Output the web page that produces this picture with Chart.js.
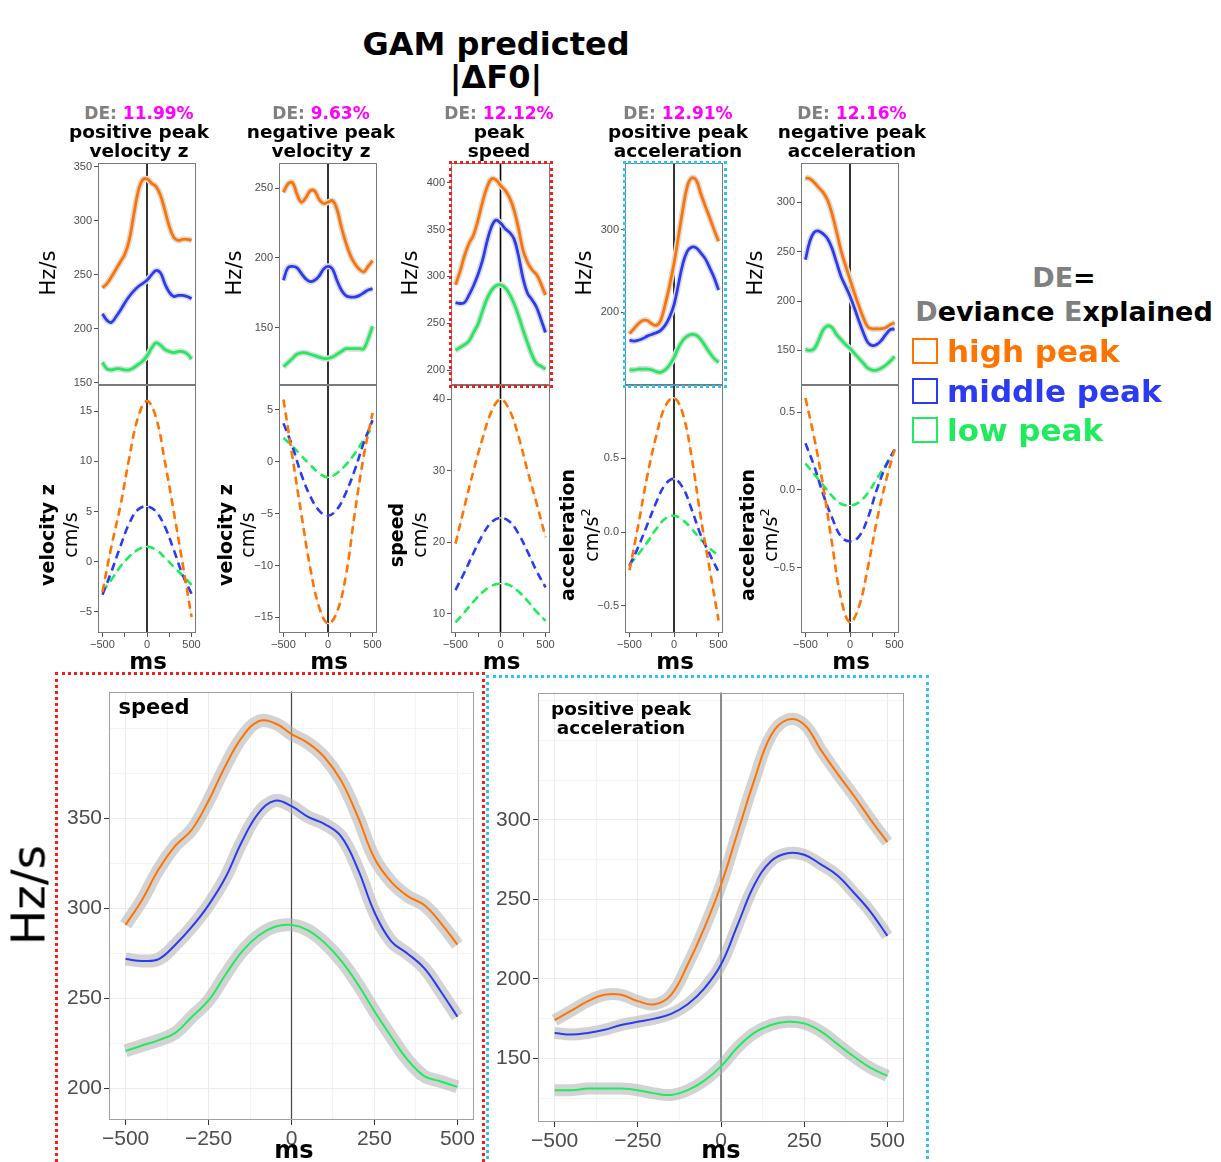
<!DOCTYPE html>
<html>
<head>
<meta charset="utf-8">
<script src="https://cdn.jsdelivr.net/npm/chart.js@4.4.1/dist/chart.umd.min.js"></script>
<style>
  body { margin: 0; background: #fff; width: 1221px; height: 1162px; position: relative; overflow: hidden; font-family: "DejaVu Sans", Verdana, sans-serif; }
  canvas { position: absolute; }
  .c { position: absolute; white-space: nowrap; font-weight: bold; text-align: center; transform: translate(-50%, -50%); }
  .l { position: absolute; white-space: nowrap; font-weight: bold; transform: translateY(-50%); }
  .r { position: absolute; white-space: nowrap; text-align: center; transform: translate(-50%, -50%) rotate(-90deg); }
  .box { position: absolute; box-sizing: border-box; }
  .sq { display: inline-block; width: 22px; height: 22px; border: 2px solid; vertical-align: -2px; margin-right: 9px; }
</style>
</head>
<body>
<script>
// time axis (ms)
const msFine = [-500,-450,-400,-350,-300,-250,-200,-150,-100,-50,0,50,100,150,200,250,300,350,400,450,500];
const msCoarse = [-500,-400,-300,-200,-100,0,100,200,300,400,500];

// GAM predicted |dF0| (Hz/s): positive peak velocity z
const pvHigh = [238,242,248,255,262,269,282,305,327,338,339,335,332,324,310,295,285,282,283,283,282];
const pvMid  = [214,208,206,211,217,224,230,235,239,242,245,250,254,252,242,234,230,231,231,230,228];
const pvLow  = [169,163,162,163,163,162,162,164,167,170,175,182,187,185,181,179,178,179,179,177,172];
// negative peak velocity z
const nvHigh = [247,253,254,246,240,243,248,248,242,239,240,241,235,222,211,202,196,192,190,194,198];
const nvMid  = [184,193,194,193,189,185,183,184,187,192,194,192,184,177,173,172,172,173,175,177,178];
const nvLow  = [122,125,128,131,132,132,131,130,129,128,128,129,131,133,135,135,135,135,135,142,151];
// peak speed
const spHigh = [291,305,322,335,344,360,379,395,404,403,397,392,384,371,351,328,315,307,302,292,280];
const spMid  = [272,271,272,280,290,302,317,337,353,360,357,351,347,340,322,298,282,275,267,254,240];
const spLow  = [221,224,227,231,240,249,263,276,285,290,291,288,281,271,258,243,229,216,207,204,201];
// positive peak acceleration
const apHigh = [174,180,186,190,190,186,184,190,209,232,259,292,325,353,363,360,344,329,315,300,286];
const apMid  = [166,165,166,168,171,173,175,178,184,194,209,234,259,274,279,278,272,265,254,242,227];
const apLow  = [130,130,131,131,131,130,128,127,130,136,145,157,166,171,173,172,167,159,151,144,139];
// negative peak acceleration
const anHigh = [325,324,320,315,310,302,288,270,251,236,222,208,195,183,174,172,172,172,173,176,178];
const anMid  = [242,261,270,271,268,263,253,239,225,215,205,193,180,168,158,155,156,160,166,171,172];
const anLow  = [151,150,152,161,171,175,173,166,161,156,152,147,142,137,132,130,130,132,135,139,144];

// kinematic trajectories
const kvpHigh = [-3,1.5,5.5,10.3,14.4,16,14.4,10,5,-0.2,-5.5];
const kvpMid  = [-3.3,-1,1.5,3.8,5.2,5.5,5,3.5,1.2,-1.3,-3.2];
const kvpLow  = [-3,-1.8,-0.5,0.5,1.2,1.5,1.2,0.4,-0.5,-1.4,-2.3];
const kvnHigh = [6,0.5,-5,-10.2,-14,-15.6,-14.5,-11,-5,0.5,4.7];
const kvnMid  = [3.7,1.5,-1.2,-3.3,-4.7,-5.2,-4.6,-3,-0.8,1.8,4];
const kvnLow  = [2.3,1.5,0.6,-0.3,-1.1,-1.5,-1.1,-0.3,0.8,2.1,3.4];
const ksHigh  = [19.8,25,30,34.5,38.3,40,38.5,34.8,30,25.5,20.7];
const ksMid   = [13.3,15.8,18.5,21,22.8,23.4,22.9,21.2,18.7,16,13.7];
const ksLow   = [8.8,10.2,11.7,13,13.9,14.2,14,13.1,11.8,10.3,9];
const kapHigh = [-0.26,0.05,0.38,0.65,0.85,0.91,0.8,0.5,0.1,-0.25,-0.6];
const kapMid  = [-0.23,-0.1,0.05,0.2,0.32,0.36,0.3,0.15,-0.02,-0.15,-0.27];
const kapLow  = [-0.22,-0.15,-0.07,0.02,0.09,0.11,0.08,0.02,-0.05,-0.11,-0.16];
const kanHigh = [0.59,0.33,0.02,-0.35,-0.7,-0.85,-0.75,-0.5,-0.2,0.05,0.26];
const kanMid  = [0.3,0.15,-0.03,-0.18,-0.3,-0.33,-0.3,-0.18,0,0.15,0.26];
const kanLow  = [0.17,0.1,0.03,-0.04,-0.09,-0.1,-0.08,-0.02,0.07,0.16,0.25];

// tick labels
const smallMsTicks = [-500,-250,0,250,500];
const bigMsTicks = [-500,-375,-250,-125,0,125,250,375,500];
const speedHzTicks = [200,225,250,275,300,325,350,375,400];
const accHzTicks = [125,150,175,200,225,250,275,300,325,350,375];

const colHigh = '#ff7400', colMid = '#2b3af3', colLow = '#1eec5c';

const frame = {
  id: 'frame',
  beforeDatasetsDraw(chart, args, o) {
    const { ctx, chartArea: c, scales } = chart;
    const px = scales.x.getPixelForValue(0);
    ctx.save();
    ctx.strokeStyle = o.zeroColor; ctx.lineWidth = o.zeroWidth;
    ctx.beginPath(); ctx.moveTo(px, c.top); ctx.lineTo(px, c.bottom); ctx.stroke();
    ctx.restore();
  },
  afterDatasetsDraw(chart, args, o) {
    const { ctx, chartArea: c } = chart;
    ctx.save();
    ctx.strokeStyle = o.color; ctx.lineWidth = 1;
    ctx.strokeRect(Math.round(c.left) + 0.5, Math.round(c.top) + 0.5, Math.round(c.width) - 1, Math.round(c.height) - 1);
    ctx.restore();
  }
};

function series(xs, ys, color, width, dash, order) {
  return { data: xs.map((x, i) => ({ x: x, y: ys[i] })), borderColor: color, borderWidth: width,
    borderDash: dash || [], pointRadius: 0, tension: 0.4, fill: false, order: order };
}

function trio(xs, arr, lw, rw, rc, dashed) {
  const cols = [colHigh, colMid, colLow];
  const sets = [];
  arr.forEach((ys, i) => {
    sets.push(series(xs, ys, cols[i], lw, dashed ? [8, 5] : null, 0));
    sets.push(series(xs, ys, rc, rw, null, 1));
  });
  return sets;
}

const minus = s => String(s).replace('-', '\u2212');

function makeChart(box, o) {
  const cv = document.createElement('canvas');
  const W = o.yW + box.w + o.padRight;
  const H = o.padTop + box.h + (o.xTicks ? o.xH : o.padBottom);
  cv.width = W; cv.height = H;
  cv.style.left = (box.left - o.yW) + 'px';
  cv.style.top = (box.top - o.padTop) + 'px';
  cv.style.width = W + 'px'; cv.style.height = H + 'px';
  document.body.appendChild(cv);
  const big = !!o.big;
  new Chart(cv, {
    type: 'line',
    data: { datasets: o.datasets },
    options: {
      responsive: false, animation: false, events: [],
      layout: { padding: { top: o.padTop, right: o.padRight, bottom: o.xTicks ? 0 : o.padBottom, left: 0 } },
      plugins: {
        legend: { display: false }, tooltip: { enabled: false },
        frame: { color: big ? '#a0a0a0' : '#7a7a7a', zeroColor: big ? '#444' : '#000', zeroWidth: big ? 1.2 : 1.6 }
      },
      scales: {
        x: {
          type: 'linear', min: -550, max: 550, display: !!o.xTicks,
          afterBuildTicks: s => { if (o.xTicks) s.ticks = o.xTicks.map(v => ({ value: v })); },
          afterFit: s => { if (o.xTicks) s.height = o.xH; },
          border: { display: false },
          grid: big ? {
            color: c => (c.tick && c.tick.value % 250 === 0) ? '#ebebeb' : '#f4f4f4',
            tickColor: c => (c.tick && c.tick.value % 250 === 0) ? '#333' : 'rgba(0,0,0,0)',
            tickLength: 5
          } : { drawOnChartArea: false, tickLength: 4, tickColor: '#555' },
          ticks: {
            autoSkip: false, maxRotation: 0, minRotation: 0, padding: big ? 2 : 1,
            color: '#4d4d4d', font: { family: 'Liberation Sans', size: big ? 21 : 11 },
            callback: v => (o.xLabels.indexOf(v) >= 0 ? minus(v) : '')
          }
        },
        y: {
          type: 'linear', min: o.yMin, max: o.yMax,
          afterBuildTicks: s => { s.ticks = o.yTicks.map(v => ({ value: v })); },
          afterFit: s => { s.width = o.yW; },
          border: { display: false },
          grid: big ? {
            color: c => (c.tick && o.yLabels.indexOf(c.tick.value) >= 0) ? '#ebebeb' : '#f4f4f4',
            tickColor: c => (c.tick && o.yLabels.indexOf(c.tick.value) >= 0) ? '#333' : 'rgba(0,0,0,0)',
            tickLength: 5
          } : { drawOnChartArea: false, tickLength: 4, tickColor: '#555' },
          ticks: {
            autoSkip: false, padding: 2,
            color: '#4d4d4d', font: { family: 'Liberation Sans', size: big ? 21 : 11 },
            callback: v => (o.yLabels.indexOf(v) >= 0 ? minus(o.dec ? v.toFixed(o.dec) : v) : '')
          }
        }
      }
    },
    plugins: [frame]
  });
}

function text(html, x, y, cls, css) {
  const d = document.createElement('div');
  d.className = cls;
  d.innerHTML = html;
  d.style.left = x + 'px'; d.style.top = y + 'px';
  Object.assign(d.style, css || {});
  document.body.appendChild(d);
  return d;
}

const panels = [
  { cx: 139, left: 98, w: 98, de: '11.99%', title: 'positive peak<br>velocity z', hz: [pvHigh, pvMid, pvLow],
    hzRange: [148, 353.7], hzTicks: [150, 200, 250, 300, 350], hzX: 48,
    kin: [kvpHigh, kvpMid, kvpLow], kinRange: [-7.1, 17.6], kinTicks: [-5, 0, 5, 10, 15], dec: 0,
    kinTitle: 'velocity z', kinUnit: 'cm/s', kinX: [47, 70] },
  { cx: 321, left: 279, w: 98, de: '9.63%', title: 'negative peak<br>velocity z', hz: [nvHigh, nvMid, nvLow],
    hzRange: [109, 268], hzTicks: [150, 200, 250], hzX: 234,
    kin: [kvnHigh, kvnMid, kvnLow], kinRange: [-16.5, 7.4], kinTicks: [-15, -10, -5, 0, 5], dec: 0,
    kinTitle: 'velocity z', kinUnit: 'cm/s', kinX: [225, 247] },
  { cx: 499, left: 451, w: 99, de: '12.12%', title: 'peak<br>speed', hz: [spHigh, spMid, spLow],
    hzRange: [184, 421], hzTicks: [200, 250, 300, 350, 400], hzX: 410,
    kin: [ksHigh, ksMid, ksLow], kinRange: [7.3, 42], kinTicks: [10, 20, 30, 40], dec: 0,
    kinTitle: 'speed', kinUnit: 'cm/s', kinX: [396, 419] },
  { cx: 678, left: 625, w: 98, de: '12.91%', title: 'positive peak<br>acceleration', hz: [apHigh, apMid, apLow],
    hzRange: [111.7, 381], hzTicks: [200, 300], hzX: 584,
    kin: [kapHigh, kapMid, kapLow], kinRange: [-0.685, 0.997], kinTicks: [-0.5, 0, 0.5], dec: 1,
    kinTitle: 'acceleration', kinUnit: 'cm/s<sup style="font-size:13px">2</sup>', kinX: [567, 590] },
  { cx: 852, left: 801, w: 98, de: '12.16%', title: 'negative peak<br>acceleration', hz: [anHigh, anMid, anLow],
    hzRange: [115, 340], hzTicks: [150, 200, 250, 300], hzX: 755,
    kin: [kanHigh, kanMid, kanLow], kinRange: [-0.919, 0.674], kinTicks: [-0.5, 0, 0.5], dec: 1,
    kinTitle: 'acceleration', kinUnit: 'cm/s<sup style="font-size:13px">2</sup>', kinX: [747, 769] }
];

panels.forEach(p => {
  makeChart({ left: p.left, top: 163, w: p.w, h: 222 }, {
    yW: 40, padTop: 10, padRight: 14, padBottom: 10,
    datasets: trio(msFine, p.hz, 2.8, 6, '#dadada', false),
    yMin: p.hzRange[0], yMax: p.hzRange[1], yTicks: p.hzTicks, yLabels: p.hzTicks, xLabels: []
  });
  const kinSets = trio(msCoarse, p.kin, 2.6, 1.2, '#e6e6e6', true);
  makeChart({ left: p.left, top: 385, w: p.w, h: 248 }, {
    yW: 40, padTop: 10, padRight: 14, xH: 20,
    datasets: kinSets, dec: p.dec,
    yMin: p.kinRange[0], yMax: p.kinRange[1], yTicks: p.kinTicks, yLabels: p.kinTicks,
    xTicks: smallMsTicks, xLabels: [-500, 0, 500]
  });
  const pc = p.left + p.w / 2;
  text('<span style="color:#808080">DE: </span><span style="color:#ff00ff">' + p.de + '</span>', p.cx, 113, 'c', { fontSize: '17px' });
  text(p.title, p.cx, 141, 'c', { fontSize: '18.5px', lineHeight: '19px' });
  text('Hz/s', p.hzX, 273, 'r', { fontSize: '21px' });
  text('<b>' + p.kinTitle + '</b>', p.kinX[0], 535, 'r', { fontSize: '19px' });
  text(p.kinUnit, p.kinX[1], 535, 'r', { fontSize: '19px' });
  text('ms', pc + 1, 661, 'c', { fontSize: '23px' });
});

// big panels
makeChart({ left: 109, top: 687, w: 365, h: 433 }, {
  big: true, yW: 60, padTop: 10, padRight: 16, xH: 30,
  datasets: trio(msFine, [spHigh, spMid, spLow], 2, 13, 'rgba(175,175,175,0.55)', false),
  yMin: 182.6, yMax: 420.6, yTicks: speedHzTicks, yLabels: [200, 250, 300, 350],
  xTicks: bigMsTicks, xLabels: [-500, -250, 0, 250, 500]
});
makeChart({ left: 538, top: 688, w: 366, h: 434 }, {
  big: true, yW: 60, padTop: 10, padRight: 16, xH: 30,
  datasets: trio(msFine, [apHigh, apMid, apLow], 2, 12, 'rgba(175,175,175,0.55)', false),
  yMin: 110, yMax: 380, yTicks: accHzTicks, yLabels: [150, 200, 250, 300],
  xTicks: bigMsTicks, xLabels: [-500, -250, 0, 250, 500]
});

// titles and annotations
text('GAM predicted<br>|\u0394F0|', 496, 61, 'c', { fontSize: '32px', lineHeight: '33px' });
text('speed', 154, 707, 'c', { fontSize: '21px' });
text('positive peak<br>acceleration', 621, 718, 'c', { fontSize: '18.5px', lineHeight: '19px' });
text('ms', 294, 1150, 'c', { fontSize: '24px' });
text('ms', 721, 1150, 'c', { fontSize: '24px' });
text('Hz/s', 28, 895, 'r', { fontSize: '47px' });

// dotted highlight boxes
text('', 449, 161, 'box', { width: '104px', height: '227px', border: '3px dotted #ff1a1a' });
text('', 623, 161, 'box', { width: '104px', height: '227px', border: '3px dotted #29c6f5' });
text('', 55, 672, 'box', { width: '430px', height: '520px', border: '3px dotted #ff1a1a' });
text('', 486, 675, 'box', { width: '443px', height: '520px', border: '3px dotted #29c6f5' });

// legend
text('<span style="color:#808080">DE</span>=', 1064, 277, 'c', { fontSize: '27px' });
text('<span style="color:#808080">D</span>eviance <span style="color:#808080">E</span>xplained', 1064, 311, 'c', { fontSize: '27px' });
const legendNames = ['high peak', 'middle peak', 'low peak'];
const legendCols = [colHigh, colMid, colLow];
legendNames.forEach((n, i) => {
  text('<span class="sq" style="border-color:' + legendCols[i] + '"></span>' + n, 912, 351 + i * 39.5, 'l',
    { fontSize: '31px', color: legendCols[i] });
});
</script>
</body>
</html>
